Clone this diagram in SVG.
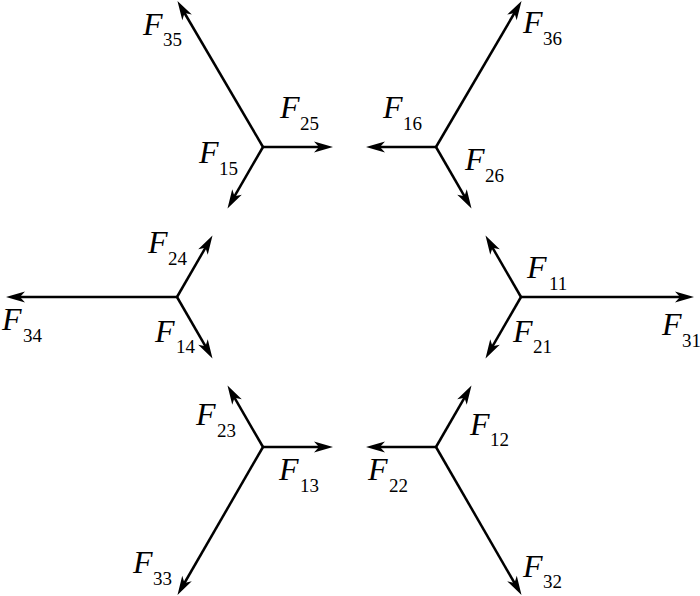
<svg xmlns="http://www.w3.org/2000/svg" width="700" height="596" viewBox="0 0 700 596">
<defs>
<marker id="ah" markerUnits="userSpaceOnUse" markerWidth="20" markerHeight="12" refX="12" refY="5.5" orient="auto" overflow="visible">
<path d="M0,0 L19,5.5 L0,11 L5,5.5 Z" fill="#000"/>
</marker>
</defs>
<rect width="700" height="596" fill="#fff"/>
<g id="connectors" stroke="#000" stroke-width="2.5" fill="none" marker-end="url(#ah)">
<path d="M263,147 L181,7"/>
<path d="M263,147 L326,147"/>
<path d="M263,147 L231,202.4"/>
<path d="M436,147 L518,7"/>
<path d="M436,147 L373,147"/>
<path d="M436,147 L468,202.4"/>
<path d="M177,297 L13,297"/>
<path d="M177,297 L209,241.6"/>
<path d="M177,297 L209,352.4"/>
<path d="M521,297 L687,297"/>
<path d="M521,297 L489,241.6"/>
<path d="M521,297 L489,352.4"/>
<path d="M263,447 L326,447"/>
<path d="M263,447 L231,391.6"/>
<path d="M263,447 L181,589"/>
<path d="M436,447 L373,447"/>
<path d="M436,447 L468,391.6"/>
<path d="M436,447 L518,589"/>
</g>
<g id="labels" font-family="Liberation Serif" fill="#000">
<g id="v-top-left">
<text x="143" y="35" font-style="italic" font-size="32">F</text><text x="163" y="46" font-size="19">35</text>
<text x="280" y="118" font-style="italic" font-size="32">F</text><text x="300" y="130" font-size="19">25</text>
<text x="199" y="163" font-style="italic" font-size="32">F</text><text x="219" y="175" font-size="19">15</text>
</g>
<g id="v-top-right">
<text x="523" y="33" font-style="italic" font-size="32">F</text><text x="543" y="45" font-size="19">36</text>
<text x="383" y="118" font-style="italic" font-size="32">F</text><text x="403" y="130" font-size="19">16</text>
<text x="465" y="170" font-style="italic" font-size="32">F</text><text x="485" y="182" font-size="19">26</text>
</g>
<g id="v-left">
<text x="2" y="330" font-style="italic" font-size="32">F</text><text x="23" y="342" font-size="19">34</text>
<text x="148" y="253" font-style="italic" font-size="32">F</text><text x="168" y="265" font-size="19">24</text>
<text x="155" y="342" font-style="italic" font-size="32">F</text><text x="176" y="353" font-size="19">14</text>
</g>
<g id="v-right">
<text x="527" y="278" font-style="italic" font-size="32">F</text><text x="549" y="290" font-size="19">11</text>
<text x="662" y="335" font-style="italic" font-size="32">F</text><text x="682" y="347" font-size="19">31</text>
<text x="513" y="342" font-style="italic" font-size="32">F</text><text x="533" y="353" font-size="19">21</text>
</g>
<g id="v-bottom-left">
<text x="196" y="425" font-style="italic" font-size="32">F</text><text x="217" y="437" font-size="19">23</text>
<text x="279" y="480" font-style="italic" font-size="32">F</text><text x="300" y="492" font-size="19">13</text>
<text x="133" y="573" font-style="italic" font-size="32">F</text><text x="153" y="585" font-size="19">33</text>
</g>
<g id="v-bottom-right">
<text x="470" y="435" font-style="italic" font-size="32">F</text><text x="490" y="446" font-size="19">12</text>
<text x="368" y="480" font-style="italic" font-size="32">F</text><text x="389" y="492" font-size="19">22</text>
<text x="523" y="577" font-style="italic" font-size="32">F</text><text x="543" y="588" font-size="19">32</text>
</g>
</g>
</svg>
